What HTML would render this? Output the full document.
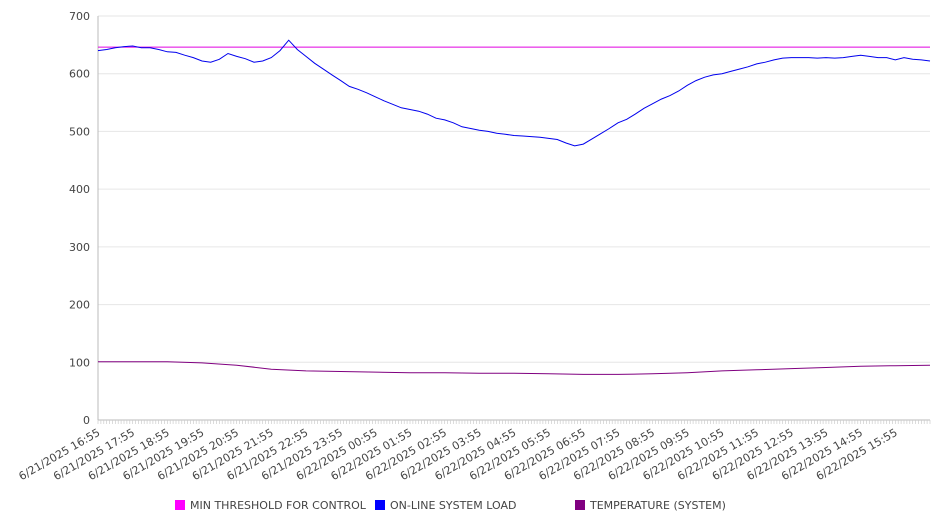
<!DOCTYPE html>
<html><head><meta charset="utf-8"><style>
body{margin:0;background:#fff;font-family:"DejaVu Sans","Liberation Sans",sans-serif;}
svg text{font-family:"DejaVu Sans","Liberation Sans",sans-serif;fill:#444;}
</style></head><body>
<svg id="chart" width="946" height="526" xmlns="http://www.w3.org/2000/svg"></svg>
<script>
const yTicks=[0,100,200,300,400,500,600,700];
const xLabels=["6/21/2025 16:55","6/21/2025 17:55","6/21/2025 18:55","6/21/2025 19:55","6/21/2025 20:55","6/21/2025 21:55","6/21/2025 22:55","6/21/2025 23:55","6/22/2025 00:55","6/22/2025 01:55","6/22/2025 02:55","6/22/2025 03:55","6/22/2025 04:55","6/22/2025 05:55","6/22/2025 06:55","6/22/2025 07:55","6/22/2025 08:55","6/22/2025 09:55","6/22/2025 10:55","6/22/2025 11:55","6/22/2025 12:55","6/22/2025 13:55","6/22/2025 14:55","6/22/2025 15:55"];
const threshold=646;
const loadValues=[640,642,645,647,648,645,645,642,638,637,632,628,622,620,625,635,630,626,620,622,628,640,658,642,630,618,608,598,588,578,573,567,560,553,547,541,538,535,530,523,520,515,508,505,502,500,497,495,493,492,491,490,488,486,480,475,478,487,496,505,515,521,530,540,548,556,562,570,580,588,594,598,600,604,608,612,617,620,624,627,628,628,628,627,628,627,628,630,632,630,628,628,624,628,625,624,622];
const tempValues=[101,101,101,99,95,88,85,84,83,82,82,81,81,80,79,79,80,82,85,87,89,91,93,94,95];
const svg=document.getElementById('chart');
const NS='http://www.w3.org/2000/svg';
const X0=98,X1=930,Y0=420,Y1=16,YMAX=700;
const yS=v=>Y0-(v/YMAX)*(Y0-Y1);
const xFrac=f=>X0+f*(X1-X0);
function mk(t,a,parent){const e=document.createElementNS(NS,t);for(const k in a)e.setAttribute(k,a[k]);(parent||svg).appendChild(e);return e;}
yTicks.forEach(v=>{
 const g=mk('line',{x1:X0,x2:X1,y1:yS(v),y2:yS(v),stroke:v?'#e6e6e6':'#bbb','stroke-width':1});
 
 
 const t=mk('text',{x:X0-8,y:yS(v)+4,'text-anchor':'end','font-size':11});
 t.textContent=v;
 
 
});
const ax=mk('line',{x1:X0,x2:X0,y1:Y1,y2:Y0,stroke:'#bbb'});


for(let i=0;i<=288;i++){const x=xFrac(i/288);const tk=mk('line',{x1:x,x2:x,y1:Y0,y2:Y0+4,stroke:'#ccc','stroke-width':0.7});
 
 }
xLabels.forEach((l,i)=>{const x=xFrac(i/24)-1,y=Y0+8;
 const t=mk('text',{x:x,y:y,'text-anchor':'end','font-size':11,transform:`rotate(-30 ${x} ${y})`,dy:'0.7em'});
 t.textContent=l;
 
 });
const th=mk('line',{x1:X0,x2:X1,y1:yS(threshold),y2:yS(threshold),stroke:'#e000e0','stroke-width':1});


function path(vals,color,name){const n=vals.length-1;
 const d=vals.map((v,i)=>(i?'L':'M')+xFrac(i/n).toFixed(1)+','+yS(v).toFixed(1)).join('');
 const p=mk('path',{d:d,fill:'none',stroke:color,'stroke-width':1});
 
 }
path(loadValues,'#0000ee','online-system-load-line');
path(tempValues,'#800080','temperature-line');
[[175,'#ff00ff','MIN THRESHOLD FOR CONTROL','legend-min-threshold'],[375,'#0000ff','ON-LINE SYSTEM LOAD','legend-online-load'],[575,'#800080','TEMPERATURE (SYSTEM)','legend-temperature']].forEach(([x,c,l,n])=>{
 const g=mk('g',{});
 
 
 mk('rect',{x:x,y:500,width:10,height:10,fill:c},g);
 const t=mk('text',{x:x+15,y:509,'font-size':11},g);t.textContent=l;});
</script>
</body></html>
